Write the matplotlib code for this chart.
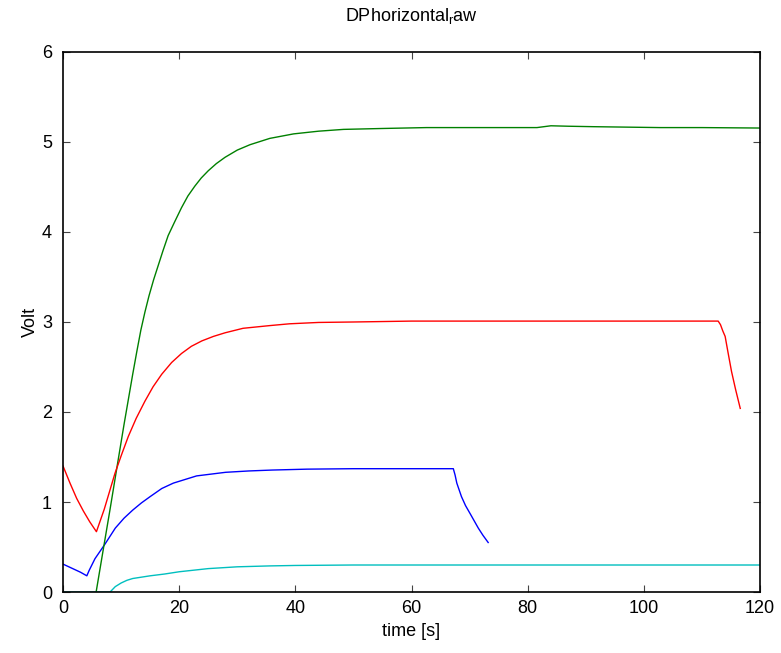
import matplotlib
matplotlib.use("Agg")
import matplotlib.pyplot as plt

plt.rcParams['font.family'] = ['Liberation Sans', 'DejaVu Sans']
plt.rcParams['mathtext.fontset'] = 'custom'
plt.rcParams['mathtext.rm'] = 'Liberation Sans'

# Sensor channels (time in s, signal in V)
t_blue = [0, 1, 2, 3, 4.1, 4.5, 5.5, 7.2, 9, 10.5, 12, 13.5, 15, 17, 19, 21, 23, 25.5, 28, 32, 36, 42, 50,
          60, 67.2, 67.5, 67.8, 68.6, 69.3, 70.1, 70.8, 71.5, 72.3, 73.2]
v_blue = [0.31, 0.28, 0.25, 0.22, 0.18, 0.24, 0.37, 0.53, 0.71, 0.82, 0.91, 0.99, 1.06, 1.15, 1.21, 1.25,
          1.29, 1.31, 1.33, 1.345, 1.355, 1.365, 1.37, 1.37, 1.37, 1.30, 1.21, 1.06, 0.96, 0.87, 0.79,
          0.71, 0.63, 0.55]

t_green = [5.7, 7.0, 8.1, 9.5, 10.5, 11.25, 12.0, 12.7, 13.4, 14.1, 14.8, 15.6, 16.4, 17.2, 18.1, 19.2,
           20.4, 21.5, 22.7, 23.8, 25.0, 26.4, 27.9, 30, 32.2, 35.6, 39.7, 44, 48.3, 55, 62.6, 70, 81.6,
           84.0, 87, 91.3, 102.8, 110, 120]
v_green = [0.0, 0.50, 0.92, 1.47, 1.86, 2.14, 2.42, 2.67, 2.91, 3.11, 3.29, 3.47, 3.63, 3.79, 3.96, 4.11,
           4.27, 4.40, 4.51, 4.60, 4.68, 4.76, 4.83, 4.91, 4.97, 5.04, 5.09, 5.12, 5.14, 5.15, 5.16, 5.16,
           5.16, 5.18, 5.175, 5.17, 5.16, 5.16, 5.155]

t_red = [0, 1.2, 2.35, 3.5, 4.6, 5.75, 7.1, 8.95, 10.1, 11.25, 12.6, 14.1, 15.5, 17.0, 18.7, 20.4, 22.1,
         23.9, 25.9, 27.9, 31, 35.6, 39, 44, 50, 60, 80, 100, 112.8, 113.2, 113.6, 114.0, 114.5, 115.1,
         115.8, 116.6]
v_red = [1.40, 1.21, 1.04, 0.90, 0.78, 0.67, 0.92, 1.32, 1.53, 1.73, 1.93, 2.12, 2.28, 2.42, 2.55, 2.65,
         2.73, 2.79, 2.84, 2.88, 2.93, 2.96, 2.98, 2.995, 3.00, 3.01, 3.01, 3.01, 3.01, 2.97, 2.90, 2.84,
         2.66, 2.45, 2.25, 2.04]

t_cyan = [0, 8.1, 9, 10, 11, 12, 13.5, 15, 17.5, 20, 25, 30, 35.6, 40, 50, 60, 80, 100, 120]
v_cyan = [0.0, 0.0, 0.06, 0.10, 0.13, 0.15, 0.165, 0.18, 0.20, 0.225, 0.26, 0.28, 0.29, 0.295, 0.30, 0.30,
          0.30, 0.30, 0.30]

x_ticks = [0, 20, 40, 60, 80, 100, 120]
y_ticks = [0, 1, 2, 3, 4, 5, 6]

fig = plt.figure(figsize=(7.81, 6.53), dpi=100)
ax = fig.add_axes([0.0807, 0.0934, 0.8924, 0.827])

lw = 1.0
ax.plot(t_blue, v_blue, color=(0, 0, 1), lw=lw)
ax.plot(t_green, v_green, color=(0, 0.5, 0), lw=lw)
ax.plot(t_red, v_red, color=(1, 0, 0), lw=lw)
ax.plot(t_cyan, v_cyan, color=(0, 0.75, 0.75), lw=lw)

ax.set_xlim(0, 120)
ax.set_ylim(0, 6)
ax.set_xticks(x_ticks)
ax.set_yticks(y_ticks)
ax.tick_params(direction='in', length=5, width=0.8, top=True, right=True,
               labelsize=13, color='#444444')
ax.tick_params(axis='x', pad=6)
ax.tick_params(axis='y', pad=8)
for s in ax.spines.values():
    s.set_linewidth(1.2)

ax.set_xlabel('time [s]', fontsize=13, labelpad=4)
ax.set_ylabel('Volt', fontsize=13, labelpad=2)
ax.set_title(r'DPhorizontal$_\mathregular{r}$aw', fontsize=13, pad=22)

fig.savefig('out.png', dpi=100)
